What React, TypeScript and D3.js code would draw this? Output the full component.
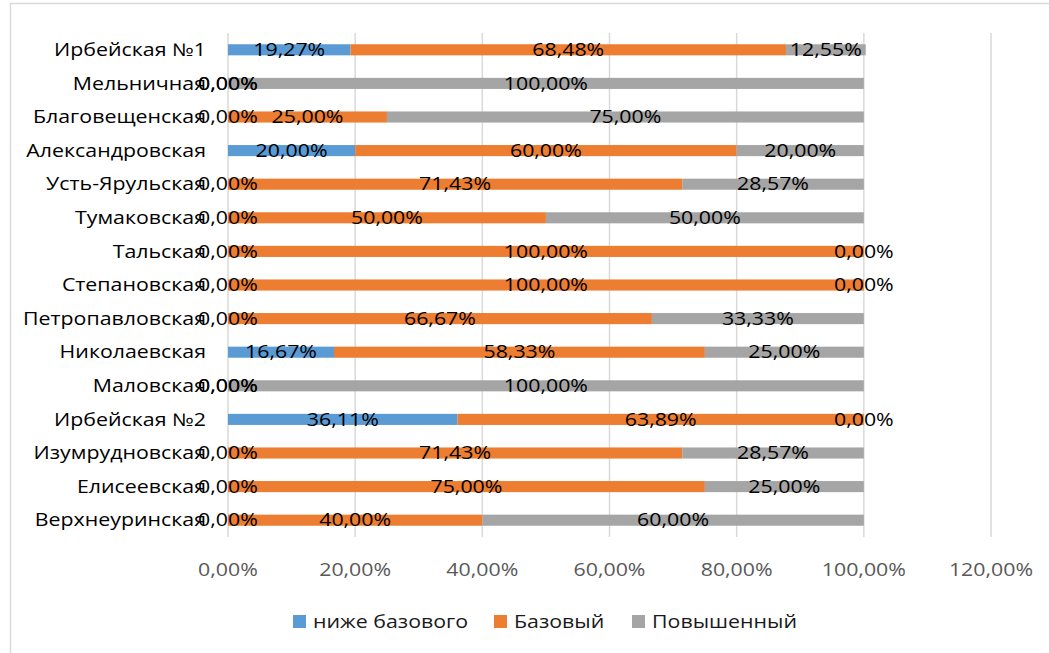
import * as d3 from "d3";
import { useEffect, useRef } from "react";

// categories, top to bottom as in the picture
const schools = [
  "Ирбейская №1",
  "Мельничная",
  "Благовещенская",
  "Александровская",
  "Усть-Ярульская",
  "Тумаковская",
  "Тальская",
  "Степановская",
  "Петропавловская",
  "Николаевская",
  "Маловская",
  "Ирбейская №2",
  "Изумрудновская",
  "Елисеевская",
  "Верхнеуринская",
];

const seriesNames = ["ниже базового", "Базовый", "Повышенный"];

// percentages per series, same order as schools
const belowBase = [19.27, 0, 0, 20, 0, 0, 0, 0, 0, 16.67, 0, 36.11, 0, 0, 0];
const base = [68.48, 0, 25, 60, 71.43, 50, 100, 100, 66.67, 58.33, 0, 63.89, 71.43, 75, 40];
const raised = [12.55, 100, 75, 20, 28.57, 50, 0, 0, 33.33, 25, 100, 0, 28.57, 25, 60];

const tickValues = [0, 0.2, 0.4, 0.6, 0.8, 1, 1.2];

const colors = ["#5B9BD5", "#ED7D31", "#A5A5A5"];

function drawChart() {
  const width = 1049;
  const height = 653;
  const font = "'Open Sans', sans-serif";
  const sx = 1.22; // the picture is a bit stretched sideways
  const fs = 17.5;

  const rows = schools.map((name, i) => ({
    name,
    [seriesNames[0]]: belowBase[i] / 100,
    [seriesNames[1]]: base[i] / 100,
    [seriesNames[2]]: raised[i] / 100,
  })) as any[];

  const x = d3.scaleLinear().domain([0, 1.2]).range([228, 991]);
  const y = d3.scaleBand().domain(schools).range([33, 537]);
  const barH = y.bandwidth() * 0.33;

  const fmt = (v: number) => d3.format(".2f")(v * 100).replace(".", ",") + "%";

  const svg = d3
    .create("svg")
    .attr("width", width)
    .attr("height", height)
    .attr("viewBox", [0, 0, width, height])
    .attr("style", "position:absolute;left:0;top:0;background:#fff;");

  // chart frame (only left and top edges are in view)
  svg
    .append("path")
    .attr("d", `M10.5,${height} V3.5 H${width}`)
    .attr("fill", "none")
    .attr("stroke", "#D9D9D9")
    .attr("stroke-width", 1.5);

  // gridlines
  svg
    .append("g")
    .selectAll("line")
    .data(tickValues)
    .join("line")
    .attr("x1", (d) => x(d))
    .attr("x2", (d) => x(d))
    .attr("y1", 33)
    .attr("y2", 537)
    .attr("stroke", "#D9D9D9")
    .attr("stroke-width", 1.5);

  const stack = d3.stack<any>().keys(seriesNames)(rows);

  // bars
  svg
    .append("g")
    .selectAll("g")
    .data(stack)
    .join("g")
    .attr("fill", (_, i) => colors[i])
    .selectAll("rect")
    .data((s) => s)
    .join("rect")
    .attr("x", (d) => x(d[0]))
    .attr("y", (d) => (y(d.data.name) ?? 0) + (y.bandwidth() - barH) / 2)
    .attr("width", (d) => x(d[1]) - x(d[0]))
    .attr("height", barH);

  // data labels
  svg
    .append("g")
    .style("font", `${fs}px ${font}`)
    .attr("fill", "#000")
    .attr("text-anchor", "middle")
    .selectAll("g")
    .data(stack)
    .join("g")
    .selectAll("text")
    .data((s) => s.map((d) => ({ d, v: d[1] - d[0] })))
    .join("text")
    .attr(
      "transform",
      ({ d }) =>
        `translate(${(x(d[0]) + x(d[1])) / 2},${(y(d.data.name) ?? 0) + y.bandwidth() / 2}) scale(${sx},1)`
    )
    .attr("dy", "0.35em")
    .text(({ v }) => fmt(v));

  // category labels
  svg
    .append("g")
    .style("font", `${fs}px ${font}`)
    .attr("fill", "#000")
    .attr("text-anchor", "end")
    .selectAll("text")
    .data(schools)
    .join("text")
    .attr("transform", (d) => `translate(206,${(y(d) ?? 0) + y.bandwidth() / 2}) scale(${sx},1)`)
    .attr("dy", "0.35em")
    .text((d) => d);

  // x axis labels
  svg
    .append("g")
    .style("font", `${fs}px ${font}`)
    .attr("fill", "#595959")
    .attr("text-anchor", "middle")
    .selectAll("text")
    .data(tickValues)
    .join("text")
    .attr("transform", (d) => `translate(${x(d)},570) scale(${sx},1)`)
    .attr("dy", "0.35em")
    .text((d) => fmt(d));

  // legend
  const legendX = [293, 494, 632];
  const legend = svg
    .append("g")
    .selectAll("g")
    .data(seriesNames)
    .join("g")
    .attr("transform", (_, i) => `translate(${legendX[i]},615)`);
  legend
    .append("rect")
    .attr("width", 13)
    .attr("height", 13)
    .attr("fill", (_, i) => colors[i]);
  legend
    .append("text")
    .attr("transform", `translate(20,7) scale(${sx},1)`)
    .attr("dy", "0.35em")
    .style("font", `${fs}px ${font}`)
    .attr("fill", "#1a1a1a")
    .text((d) => d);

  return svg.node();
}

export default function App() {
  const ref = useRef<HTMLDivElement | null>(null);
  useEffect(() => {
    const node = drawChart();
    if (ref.current && node) {
      ref.current.innerHTML = "";
      ref.current.appendChild(node);
    }
  }, []);
  return <div ref={ref} />;
}
